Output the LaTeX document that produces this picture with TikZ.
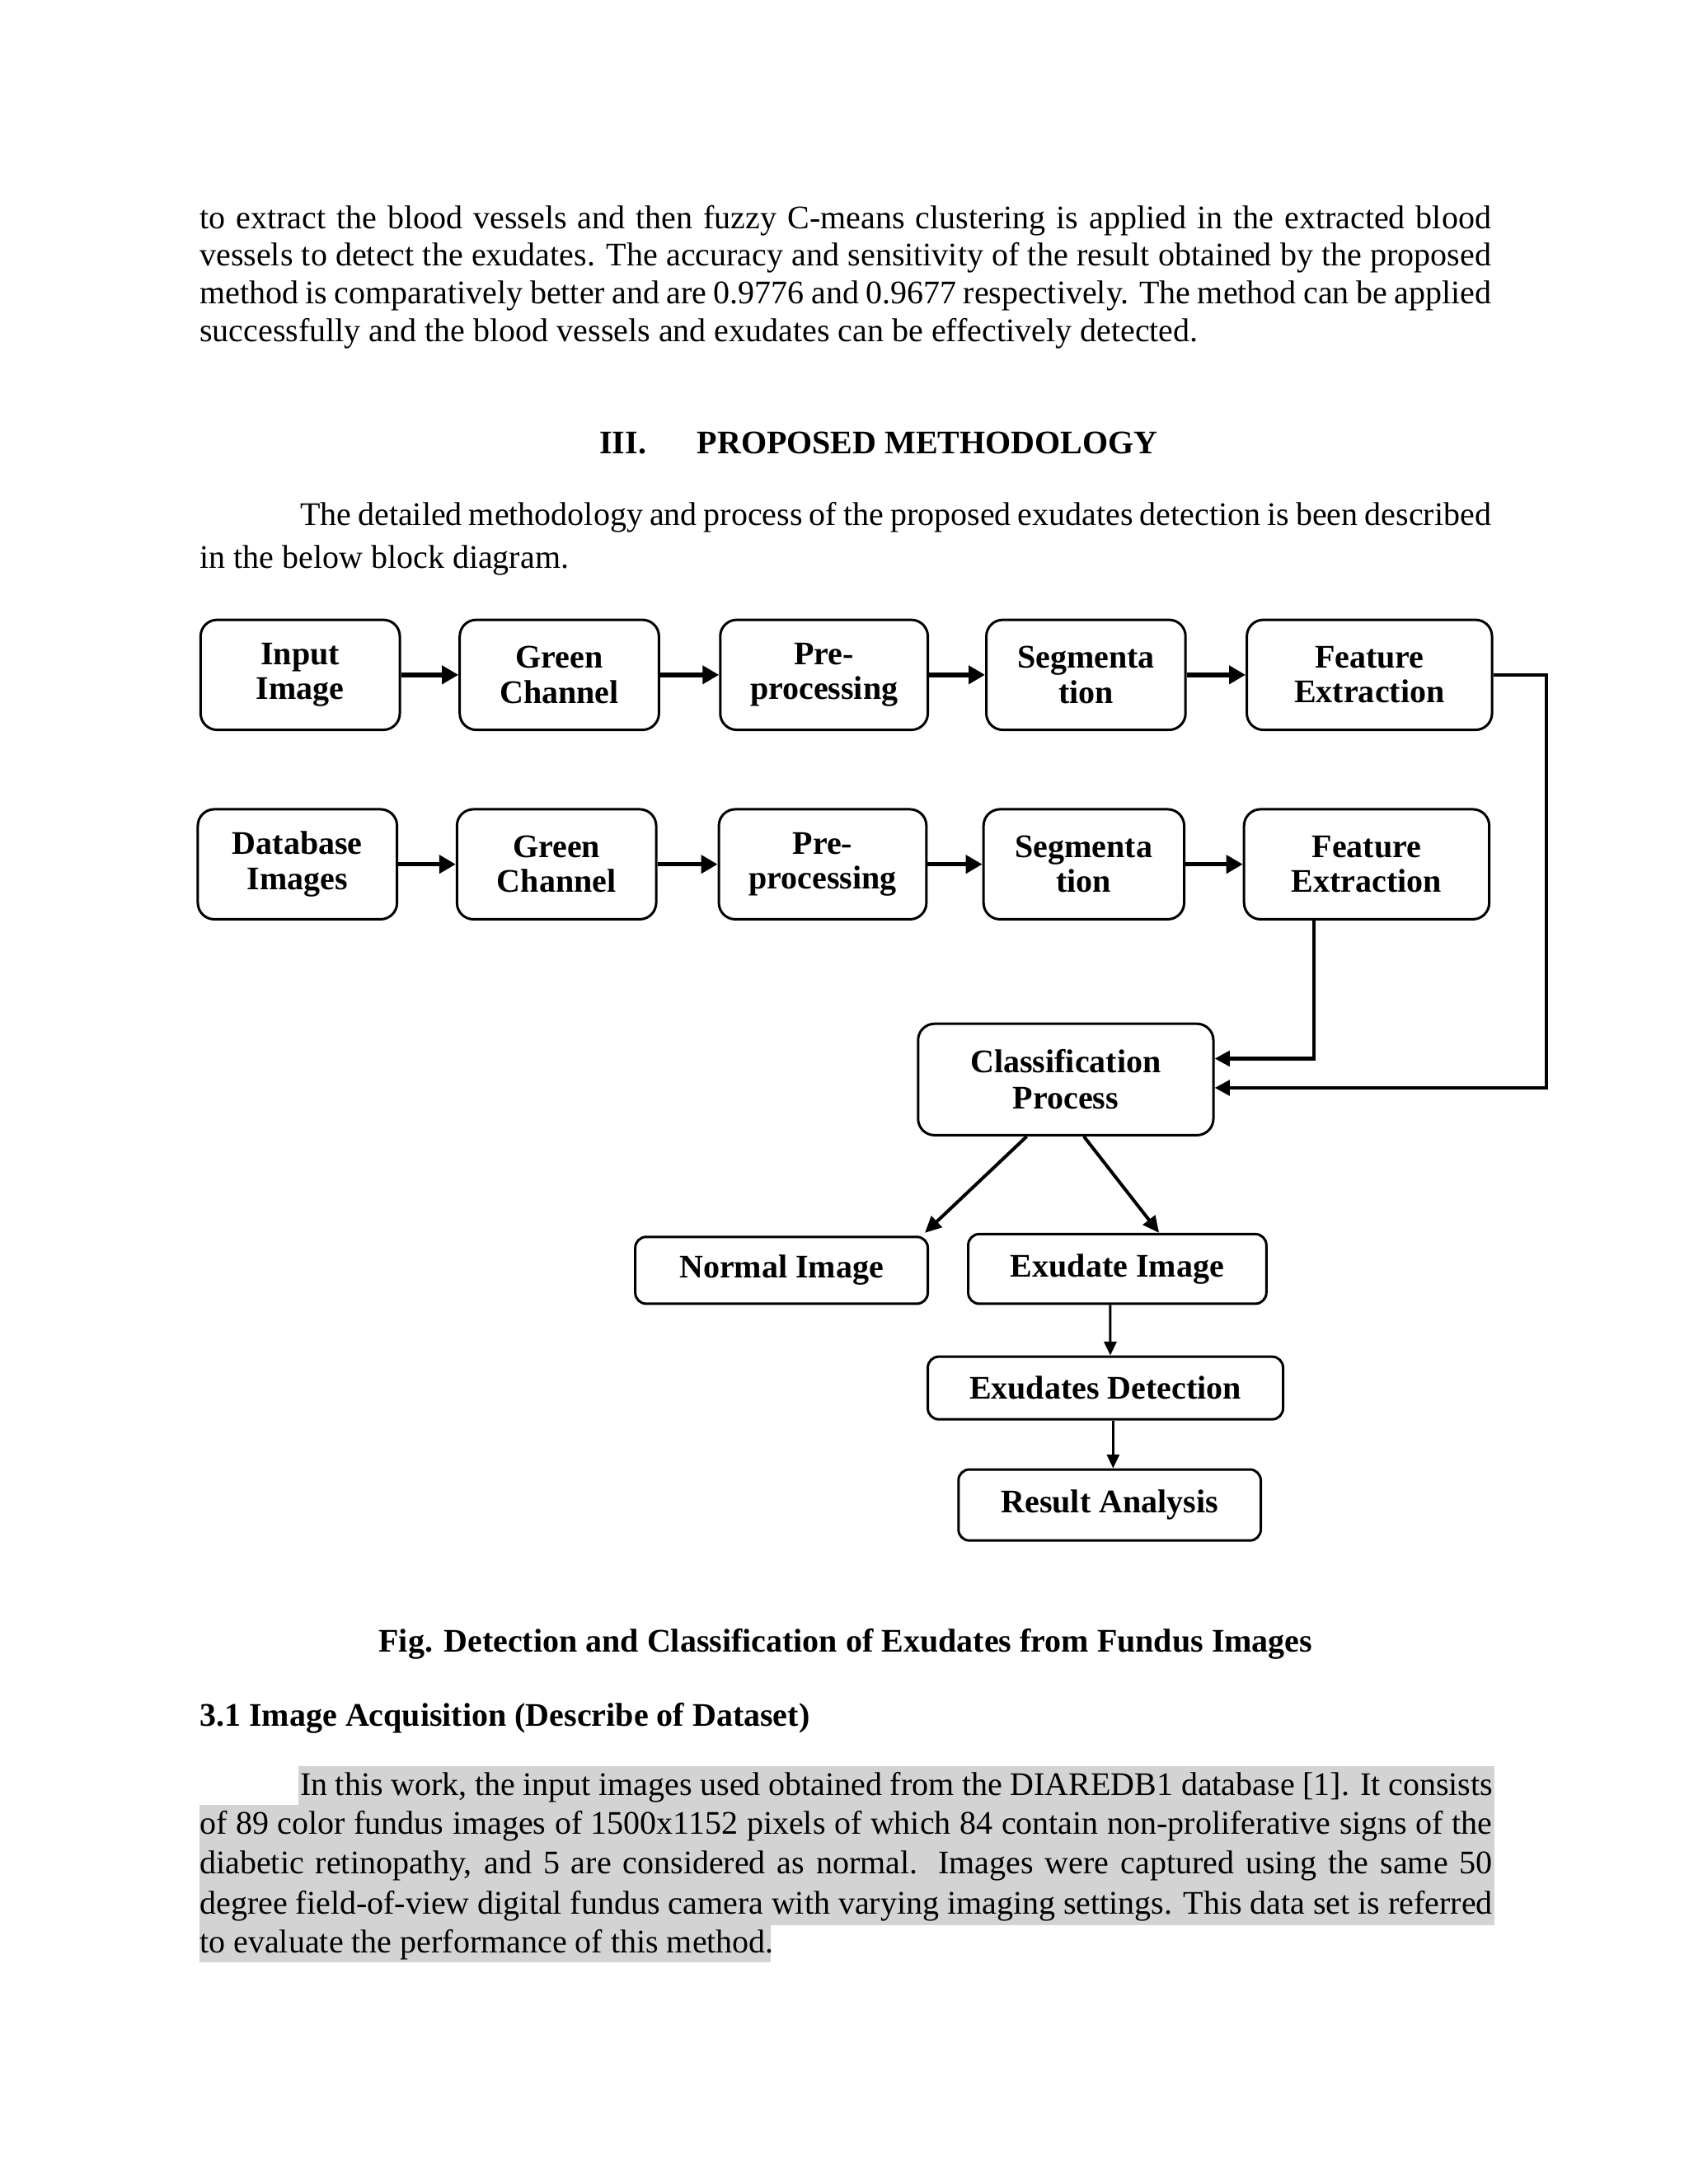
\documentclass[tikz,border=0pt]{standalone}
\usepackage{fontspec}
\setmainfont{Liberation Serif}
\usetikzlibrary{arrows.meta,calc}
\definecolor{hl}{RGB}{211,211,211}
\begin{document}
\begin{tikzpicture}[x=0.50694pt,y=-0.50694pt,
  box/.style={draw, line width=0.9pt, rounded corners=6pt, inner sep=0pt,
    font=\fontsize{12}{12.7}\selectfont\bfseries, align=center},
  sbox/.style={box, rounded corners=4pt},
  wh/.style 2 args={minimum width={#1*0.50694pt}, minimum height={#2*0.50694pt}},
  txt/.style={inner sep=0pt, anchor=base west, font=\fontsize{12}{14}\selectfont},
  btxt/.style={txt, font=\fontsize{12}{14}\selectfont\bfseries},
  rowarr/.style={line width=1.6pt, -{Triangle[length=6pt,width=6.5pt]}},
  conn/.style={line width=1.3pt, -{Triangle[length=5.5pt,width=5.5pt]}},
  diag/.style={line width=1.2pt, -{Triangle[length=6pt,width=5.5pt]}},
  varr/.style={line width=0.9pt, -{Triangle[length=5pt,width=4.5pt]}}]
\useasboundingbox (0,0) rectangle (1212,1568);
\fill[white] (0,0) rectangle (1212,1568);

% paragraph 1
\node[txt] (p1a) at (143,164) {\makebox[469.9pt][s]{to extract the blood vessels and then fuzzy C-means clustering is applied in the extracted blood}};
\node[txt] (p1b) at (143,191) {\makebox[469.9pt][s]{vessels to detect the exudates. The accuracy and sensitivity of the result obtained by the proposed}};
\node[txt] (p1c) at (143,218) {\makebox[469.9pt][s]{method is comparatively better and are 0.9776 and 0.9677 respectively. The method can be applied}};
\node[txt] (p1d) at (143,245) {successfully and the blood vessels and exudates can be effectively detected.};

% heading
\node[btxt] (h3a) at (430,326) {III.};
\node[btxt] (h3b) at (500,326) {PROPOSED METHODOLOGY};

% paragraph 2
\node[txt] (p2a) at (215,377) {\makebox[433.4pt][s]{The detailed methodology and process of the proposed exudates detection is been described}};
\node[txt] (p2b) at (143,408) {in the below block diagram.};

% row 1
\node[box, wh={143}{79}] (in)  at (215.5,484.5) {Input\\Image};
\node[box, wh={143}{79}] (gc1) at (401.5,484.5) {Green\\Channel};
\node[box, wh={149}{79}] (pp1) at (591.5,484.5) {Pre-\\processing};
\node[box, wh={143}{79}] (sg1) at (779.5,484.5) {Segmenta\\tion};
\node[box, wh={176}{79}] (fe1) at (983,484.5) {Feature\\Extraction};
% row 2
\node[box, wh={143}{79}] (db)  at (213.5,620.5) {Database\\Images};
\node[box, wh={143}{79}] (gc2) at (399.5,620.5) {Green\\Channel};
\node[box, wh={149}{79}] (pp2) at (590.5,620.5) {Pre-\\processing};
\node[box, wh={144}{79}] (sg2) at (778,620.5) {Segmenta\\tion};
\node[box, wh={176}{79}] (fe2) at (981,620.5) {Feature\\Extraction};

\node[box, wh={212}{80}, font=\fontsize{12}{13.2}\selectfont\bfseries] (cls) at (765,775) {Classification\\Process};
\node[sbox, wh={210}{48}] (ni) at (561,912) {Normal Image};
\node[sbox, wh={214}{50}] (ei) at (802,911) {Exudate Image};
\node[sbox, wh={255}{45}] (ed) at (793.5,996.5) {Exudates Detection};
\node[sbox, wh={217}{51}] (ra) at (796.5,1080.5) {Result Analysis};

\draw[rowarr] (in) -- (gc1);
\draw[rowarr] (gc1) -- (pp1);
\draw[rowarr] (pp1) -- (sg1);
\draw[rowarr] (sg1) -- (fe1);
\draw[rowarr] (db) -- (gc2);
\draw[rowarr] (gc2) -- (pp2);
\draw[rowarr] (pp2) -- (sg2);
\draw[rowarr] (sg2) -- (fe2);

\draw[conn] (fe1.east) -- ++(38,0) |- ($(cls.east)+(0,6)$);
\draw[conn] ($(fe2.south)+(-38,0)$) |- ($(cls.east)+(0,-15)$);

\coordinate (c1) at ($(cls.south)+(-28,0)$);
\coordinate (c2) at ($(cls.south)+(13,0)$);
\draw[diag] (c1) -- ($(ni.north east)+(-3,-2)$);
\draw[diag] (c2) -- ($(ei.north)+(30,0)$);
\draw[varr] ($(ei.south)+(-5,0)$) -- ($(ed.north)+(3.5,0)$);
\draw[varr] ($(ed.south)+(5.5,0)$) -- ($(ra.north)+(2.5,0)$);

% caption
\node[inner sep=0pt, anchor=base, font=\fontsize{12}{14}\selectfont\bfseries] (cap) at (607,1186) {Fig. Detection and Classification of Exudates from Fundus Images};
\node[btxt] (h31) at (143,1239) {3.1 Image Acquisition (Describe of Dataset)};

% highlighted paragraph
\fill[hl] (214,1268) rectangle (1073,1296);
\fill[hl] (143,1296) rectangle (1073,1382);
\fill[hl] (143,1382) rectangle (553,1409);
\node[txt] (p3a) at (215,1289) {\makebox[434pt][s]{In this work, the input images used obtained from the DIAREDB1 database [1]. It consists}};
\node[txt] (p3b) at (143,1317) {\makebox[470.4pt][s]{of 89 color fundus images of 1500x1152 pixels of which 84 contain non-proliferative signs of the}};
\node[txt] (p3c) at (143,1345) {\makebox[470.4pt][s]{diabetic retinopathy, and 5 are considered as normal. Images were captured using the same 50}};
\node[txt] (p3d) at (143,1374) {\makebox[470.4pt][s]{degree field-of-view digital fundus camera with varying imaging settings. This data set is referred}};
\node[txt] (p3e) at (143,1402) {to evaluate the performance of this method.};
\end{tikzpicture}
\end{document}
